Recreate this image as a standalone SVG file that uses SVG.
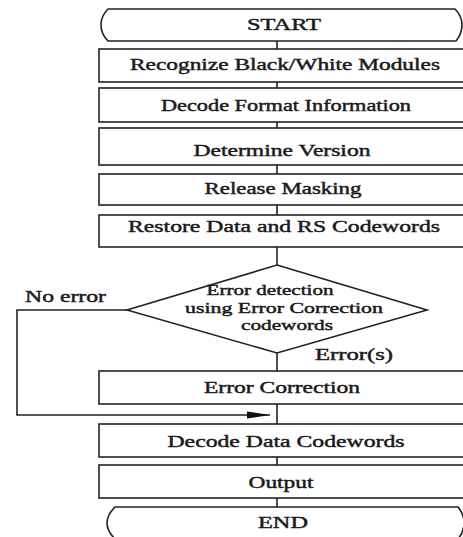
<svg xmlns="http://www.w3.org/2000/svg" width="463" height="537" viewBox="0 0 463 537">
<defs>
<style>
.s{fill:#fff;stroke:#222;stroke-width:1.6}
.c{fill:none;stroke:#222;stroke-width:1.6}
.t{font-family:"Liberation Serif","Times New Roman",serif;font-size:17px;font-weight:normal;fill:#1a1a1a;stroke:#1a1a1a;stroke-width:0.45;text-anchor:middle}
.d{font-size:15px}
.l{font-family:"Liberation Serif","Times New Roman",serif;font-size:17px;font-weight:normal;fill:#1a1a1a;stroke:#1a1a1a;stroke-width:0.45}
</style>
<marker id="ah" markerWidth="24" markerHeight="8" refX="23" refY="4" orient="auto" markerUnits="userSpaceOnUse">
<path d="M0,0.5 L23,4 L0,7.5 Z" fill="#111"/>
</marker>
</defs>
<rect width="463" height="537" fill="#fff"/>
<g id="connectors">
<path class="c" d="M277,41 V49 M277,82 V88 M277,122 V128 M277,165 V174 M277,205 V215 M277,247 V265 M277,353 V371 M277,404 V424 M277,457 V465 M277,498 V507"/>
<path class="c" d="M127,310 H17 V415 H270" marker-end="url(#ah)"/>
<text class="l" x="25" y="302" textLength="81" lengthAdjust="spacingAndGlyphs">No error</text>
<text class="l" x="315" y="360" textLength="78" lengthAdjust="spacingAndGlyphs">Error(s)</text>
</g>
<g id="start">
<path class="s" d="M108,9 H455 C460,14 462,20 462,25 C462,30 460,36 456,41 H108 C103,36 101,30 101,25 C101,20 103,14 108,9 Z"/>
<text class="t" x="284" y="30" textLength="74" lengthAdjust="spacingAndGlyphs">START</text>
</g>
<g id="recognize">
<rect class="s" x="99" y="49" width="372" height="33"/>
<text class="t" x="285" y="70" textLength="310" lengthAdjust="spacingAndGlyphs">Recognize Black/White Modules</text>
</g>
<g id="decode-format">
<rect class="s" x="99" y="88" width="372" height="34"/>
<text class="t" x="286" y="111" textLength="250" lengthAdjust="spacingAndGlyphs">Decode Format Information</text>
</g>
<g id="determine-version">
<rect class="s" x="99" y="128" width="372" height="37"/>
<text class="t" x="282" y="156" textLength="177" lengthAdjust="spacingAndGlyphs">Determine Version</text>
</g>
<g id="release-masking">
<rect class="s" x="99" y="174" width="372" height="31"/>
<text class="t" x="283" y="194" textLength="157" lengthAdjust="spacingAndGlyphs">Release Masking</text>
</g>
<g id="restore">
<rect class="s" x="99" y="215" width="372" height="32"/>
<text class="t" x="284" y="232" textLength="312" lengthAdjust="spacingAndGlyphs">Restore Data and RS Codewords</text>
</g>
<g id="error-detection">
<path class="s" d="M277,265 L427,310 L277,353 L127,310 Z"/>
<text class="t d" x="270" y="295" textLength="127" lengthAdjust="spacingAndGlyphs">Error detection</text>
<text class="t d" x="284" y="313" textLength="198" lengthAdjust="spacingAndGlyphs">using Error Correction</text>
<text class="t d" x="287" y="330" textLength="92" lengthAdjust="spacingAndGlyphs">codewords</text>
</g>
<g id="error-correction">
<rect class="s" x="99" y="371" width="372" height="33"/>
<text class="t" x="282" y="393" textLength="156" lengthAdjust="spacingAndGlyphs">Error Correction</text>
</g>
<g id="decode-data">
<rect class="s" x="99" y="424" width="372" height="33"/>
<text class="t" x="286" y="447" textLength="237" lengthAdjust="spacingAndGlyphs">Decode Data Codewords</text>
</g>
<g id="output">
<rect class="s" x="99" y="465" width="372" height="33"/>
<text class="t" x="281" y="488" textLength="65" lengthAdjust="spacingAndGlyphs">Output</text>
</g>
<g id="end">
<path class="s" d="M115,507 H458 C462,512 464,518 464,523 C464,528 462,534 458,539 H115 C110,534 107,528 107,523 C107,518 110,512 115,507 Z"/>
<text class="t" x="283" y="528" textLength="50" lengthAdjust="spacingAndGlyphs">END</text>
</g>
</svg>
